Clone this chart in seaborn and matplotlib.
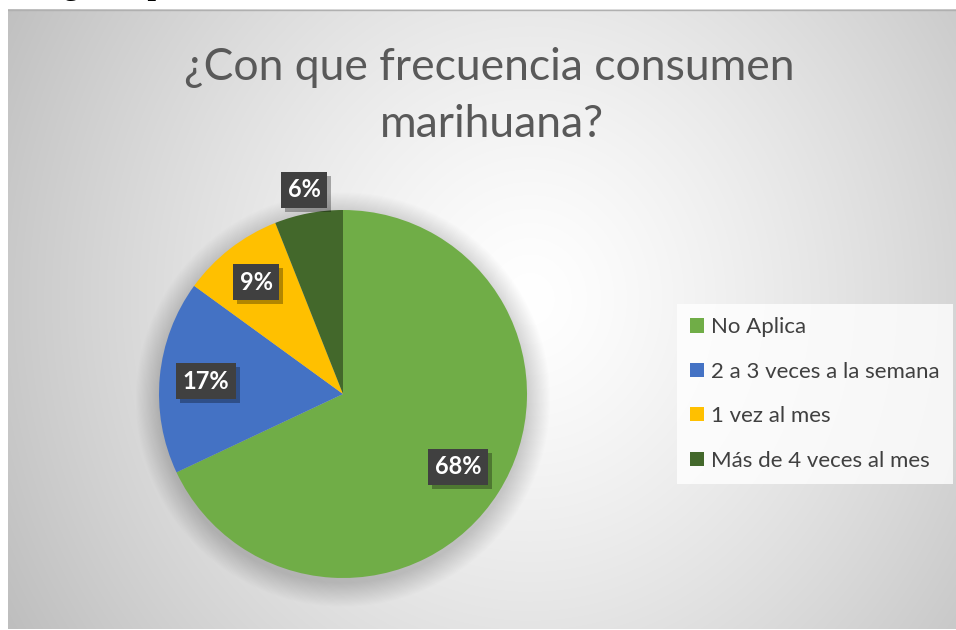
import numpy as np
import matplotlib
matplotlib.use("Agg")
import matplotlib.pyplot as plt
import seaborn as sns
from matplotlib.patches import Circle
import matplotlib.patheffects as pe

# ---- data ----
categories = ["No Aplica", "2 a 3 veces a la semana", "1 vez al mes", "Más de 4 veces al mes"]
values = [68, 17, 9, 6]
pct_labels = ["68%", "17%", "9%", "6%"]
colors = ["#70AD47", "#4472C4", "#FFC000", "#43682B"]
title_line1 = "¿Con que frecuencia consumen"
title_line2 = "marihuana?"
caption = "¿Con que frecuencia consumen marihuana?"

sns.set_theme(style="white")
plt.rcParams['font.family'] = ['Lato', 'DejaVu Sans']

W, H = 956, 630
fig = plt.figure(figsize=(W / 100, H / 100), dpi=100)
fig.patch.set_facecolor("white")

# ---- background with radial gradient ----
bx0, by0 = 8, 9
bw, bh = W - bx0, H - by0
bg = fig.add_axes([bx0 / W, 0, bw / W, bh / H])
yy, xx = np.mgrid[0:bh, 0:bw]
cx, cy = 530 - bx0, 300 - by0
r = np.sqrt(((xx - cx) / 520.0) ** 2 + ((yy - cy) / 560.0) ** 2)
v = 1 - 0.21 * np.clip(r, 0, 1.4) ** 1.3
bg.imshow(np.dstack([v, v, v]), aspect="auto", interpolation="bilinear")
bg.axis("off")
bg.plot([0, bw], [0.5, 0.5], color="#b0b0b0", lw=1)
bg.set_xlim(0, bw)
bg.set_ylim(bh, 0)

# clipped caption above the chart
fig.text(62 / W, 1 + 6 / H, caption, ha="left", va="baseline", fontsize=22,
         fontweight="bold", family=["Liberation Serif", "DejaVu Serif"], color="black")

# ---- pie ----
pcx, pcy, R = 343, 394, 184.0
half = 230
ax = fig.add_axes([(pcx - half) / W, (H - pcy - half) / H, 2 * half / W, 2 * half / H])
lim = half / R
# soft shadow
for k in range(22):
    ax.add_patch(Circle((0.0, -0.03), 1 + 0.006 * k, color="black", alpha=0.009, lw=0, zorder=0))
wedges, _ = ax.pie(values, colors=colors, startangle=90, counterclock=False, radius=1,
                   wedgeprops=dict(linewidth=0))
ax.set_xlim(-lim, lim)
ax.set_ylim(-lim, lim)
ax.set_aspect("equal")
ax.axis("off")

label_r = [0.74, 0.75, 0.77, 1.13]
for w, lab, rr in zip(wedges, pct_labels, label_r):
    ang = np.deg2rad((w.theta1 + w.theta2) / 2)
    x, y = rr * np.cos(ang), rr * np.sin(ang)
    t = ax.text(x, y, lab, ha="center", va="center", fontsize=17, fontweight="bold", color="white",
                bbox=dict(boxstyle="square,pad=0.28", fc="#404040", ec="none"), zorder=6)
    t.get_bbox_patch().set_path_effects(
        [pe.SimplePatchShadow(offset=(3, -3), shadow_rgbFace="black", alpha=0.3), pe.Normal()])

# ---- title ----
fig.text(489 / W, 1 - 80 / H, title_line1, ha="center", va="baseline", fontsize=32, color="#595959")
fig.text(492 / W, 1 - 137 / H, title_line2, ha="center", va="baseline", fontsize=32, color="#595959")

# ---- legend ----
leg = fig.legend(handles=wedges, labels=categories, loc="upper left",
                 bbox_to_anchor=(677 / W, 1 - 304 / H), frameon=True, fontsize=16,
                 labelspacing=1.1, handlelength=0.6, handleheight=0.6, handletextpad=0.35,
                 borderpad=0.6, borderaxespad=0, fancybox=False)
leg.get_frame().set_facecolor((1, 1, 1, 0.35))
leg.get_frame().set_edgecolor("none")
for t in leg.get_texts():
    t.set_color("#404040")

fig.savefig("out.png", dpi=100)
